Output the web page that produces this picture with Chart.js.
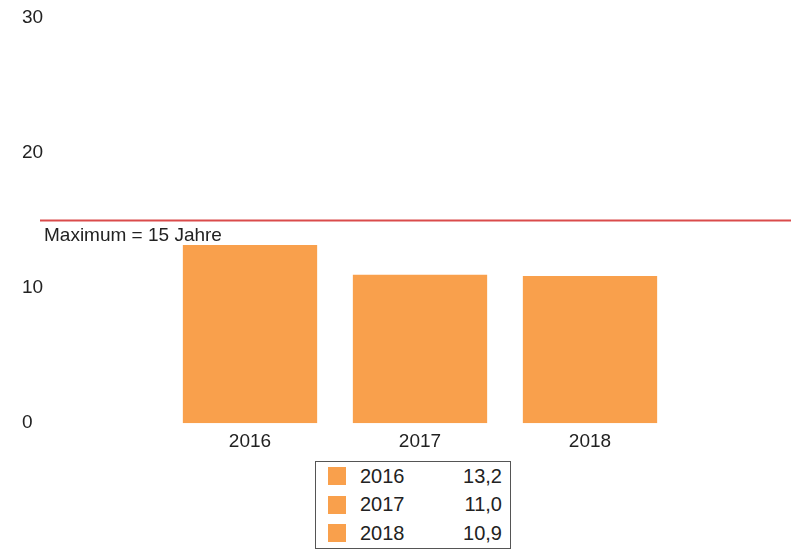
<!DOCTYPE html>
<html>
<head>
<meta charset="utf-8">
<script src="https://cdn.jsdelivr.net/npm/chart.js@4"></script>
<style>
  body { margin:0; background:#fff; }
  #wrap { position:relative; width:791px; height:550px; }
  #legend { position:absolute; left:315px; top:461px; width:194px; border:1px solid #555;
            font-family:"Liberation Sans", Arial, sans-serif; font-size:20px; color:#222; background:#fff; }
  #legend div { display:flex; align-items:center; height:28.5px; }
  #legend span.sw { width:18px; height:18px; margin-left:12px; margin-right:14px; }
  #legend span.yr { width:80px; }
  #legend span.val { flex:1; text-align:right; padding-right:8px; }
</style>
</head>
<body>
<div id="wrap">
  <canvas id="chart" width="791" height="550"></canvas>
  <div id="legend"></div>
</div>
<script>
let years = ['2016', '2017', '2018']
let values = [13.2, 11.0, 10.9]
let y_ticks = [0, 10, 20, 30]
let max_value = 15
let max_label = 'Maximum = 15 Jahre'
let bar_color = '#F9A04C'

// red max line with its label, drawn from the y scale
let max_line = {
    id: 'max_line',
    afterDatasetsDraw(chart){
        let ctx = chart.ctx
        let y = chart.scales.y.getPixelForValue(max_value)
        ctx.save()
        ctx.strokeStyle = '#DA4B4B'
        ctx.lineWidth = 2
        ctx.beginPath()
        ctx.moveTo(40, y)
        ctx.lineTo(chart.width, y)
        ctx.stroke()
        ctx.fillStyle = '#222'
        ctx.font = '19px "Liberation Sans", Arial, sans-serif'
        ctx.textBaseline = 'middle'
        ctx.fillText(max_label, 44, y + 15)
        ctx.restore()
    }
}

new Chart(document.querySelector('#chart'), {
    type: 'bar',
    data: {
        labels: years,
        datasets: [{
            data: values,
            backgroundColor: bar_color,
            categoryPercentage: 0.79,
            barPercentage: 1
        }]
    },
    options: {
        responsive: false,
        animation: false,
        layout: { padding: { left: 22, right: 116, top: 18, bottom: 90 } },
        plugins: { legend: { display: false }, tooltip: { enabled: false } },
        scales: {
            x: {
                grid: { display: false, drawTicks: false },
                border: { display: false },
                ticks: { color: '#222', font: { family: 'Liberation Sans', size: 19 }, padding: 7 }
            },
            y: {
                min: 0, max: 30,
                afterBuildTicks(scale){ scale.ticks = y_ticks.map(v => ({ value: v })) },
                afterFit(scale){ scale.width = 143 },
                grid: { display: false, drawTicks: false },
                border: { display: false },
                ticks: { color: '#222', crossAlign: 'far', font: { family: 'Liberation Sans', size: 19 } }
            }
        }
    },
    plugins: [max_line]
})

let legend = document.querySelector('#legend')
years.forEach((yr, i) => {
    let row = document.createElement('div')
    row.innerHTML = '<span class="sw" style="background:' + bar_color + '"></span><span class="yr">' + yr +
        '</span><span class="val">' + values[i].toFixed(1).replace('.', ',') + '</span>'
    legend.appendChild(row)
})
</script>
</body>
</html>
